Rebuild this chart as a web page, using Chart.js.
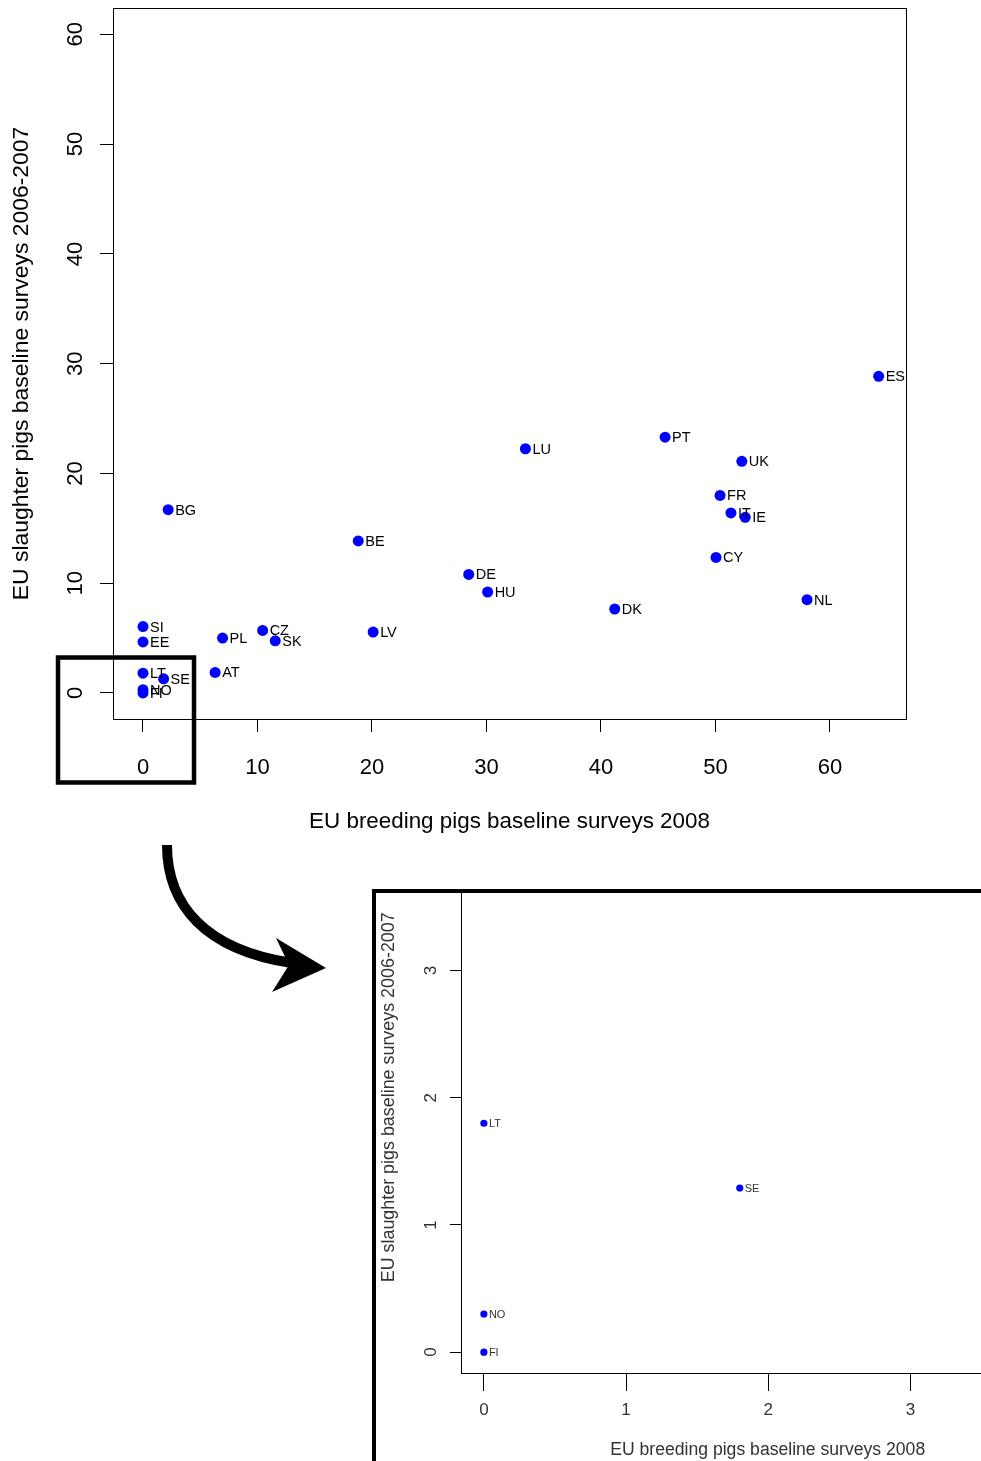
<!DOCTYPE html>
<html>
<head>
<meta charset="utf-8">
<title>Breeding vs slaughter pigs baseline surveys</title>
<script src="https://cdn.jsdelivr.net/npm/chart.js@4.4.1/dist/chart.umd.min.js"></script>
<style>
  html, body { margin: 0; padding: 0; background: #fff; }
  #page { position: relative; width: 981px; height: 1461px; overflow: hidden; }
  #main { position: absolute; left: 0; top: 0; }
  #zoomBox { position: absolute; left: 376px; top: 893px; width: 605px; height: 568px; overflow: hidden; }
  #zoom { position: absolute; left: 0; top: -75px; }
  #marks { position: absolute; left: 0; top: 0; pointer-events: none; }
</style>
</head>
<body>
<div id="page">
  <canvas id="main" width="981" height="850"></canvas>
  <div id="zoomBox"><canvas id="zoom" width="702" height="643"></canvas></div>
  <canvas id="marks" width="981" height="1461"></canvas>
</div>
<script>
const countries = ['ES','LU','PT','UK','FR','IT','IE','CY','NL','DK','BG','BE','DE','HU','LV','SI','EE','PL','CZ','SK','AT','LT','SE','NO','FI'];
const breeding2008 = [64.25, 33.4, 45.6, 52.3, 50.4, 51.35, 52.6, 50.05, 58.0, 41.2, 2.2, 18.8, 28.45, 30.1, 20.1, 0, 0, 6.95, 10.45, 11.55, 6.3, 0, 1.8, 0, 0];
const slaughter0607 = [28.85, 22.25, 23.3, 21.1, 18.0, 16.4, 16.0, 12.35, 8.5, 7.65, 16.7, 13.85, 10.8, 9.2, 5.55, 6.05, 4.65, 5.0, 5.7, 4.75, 1.87, 1.8, 1.29, 0.3, 0];
const mainTicks = [0, 10, 20, 30, 40, 50, 60];
const zoomTicks = [0, 1, 2, 3, 4];
const xTitle = 'EU breeding pigs baseline surveys 2008';
const yTitle = 'EU slaughter pigs baseline surveys 2006-2007';

const FONT = '"Liberation Sans", Arial, Helvetica, sans-serif';
const points = countries.map((c, i) => ({ x: breeding2008[i], y: slaughter0607[i] }));

// base-graphics look: full box, country labels right of the dots, y tick labels along the axis
function rPlot(o) {
  return {
    id: 'rPlot',
    afterDatasetsDraw(chart) {
      const { ctx, chartArea: a } = chart;
      ctx.save();
      ctx.beginPath();
      ctx.rect(a.left, a.top, a.right - a.left, a.bottom - a.top);
      ctx.clip();
      ctx.fillStyle = o.textColor;
      ctx.font = o.labelSize + 'px ' + FONT;
      ctx.textAlign = 'left';
      ctx.textBaseline = 'middle';
      chart.getDatasetMeta(0).data.forEach((p, i) => {
        ctx.fillText(countries[i], p.x + o.labelGap, p.y + 1);
      });
      ctx.restore();
    },
    afterDraw(chart) {
      const { ctx, chartArea: a, scales } = chart;
      ctx.save();
      ctx.strokeStyle = '#000';
      ctx.lineWidth = 1;
      const l = Math.round(a.left) + 0.5, t = Math.round(a.top) + 0.5;
      ctx.strokeRect(l, t, Math.round(a.right) - Math.round(a.left), Math.round(a.bottom) - Math.round(a.top));
      ctx.fillStyle = o.textColor;
      ctx.font = o.tickSize + 'px ' + FONT;
      ctx.textAlign = 'center';
      ctx.textBaseline = 'middle';
      scales.y.ticks.forEach(tk => {
        const y = scales.y.getPixelForValue(tk.value);
        ctx.save();
        ctx.translate(o.yLabelX, y);
        ctx.rotate(-Math.PI / 2);
        ctx.fillText(String(tk.value), 0, 0);
        ctx.restore();
      });
      ctx.restore();
    }
  };
}

function makeChart(id, cfg) {
  const setTicks = vals => s => { s.ticks = vals.map(v => ({ value: v })); };
  return new Chart(document.getElementById(id), {
    type: 'scatter',
    data: {
      datasets: [{
        data: points,
        backgroundColor: '#0000ff',
        borderWidth: 0,
        pointRadius: cfg.radius,
        pointHoverRadius: cfg.radius
      }]
    },
    options: {
      responsive: false,
      animation: false,
      events: [],
      layout: { padding: cfg.padding },
      plugins: { legend: { display: false }, tooltip: { enabled: false } },
      scales: {
        x: {
          type: 'linear',
          min: cfg.xRange[0],
          max: cfg.xRange[1],
          afterBuildTicks: setTicks(cfg.ticks),
          afterFit: s => { s.height = cfg.xAxisHeight; },
          grid: { drawOnChartArea: false, tickLength: cfg.xTickLength, tickColor: '#000', tickWidth: 1 },
          border: { display: true, color: '#000', width: 1 },
          ticks: {
            color: cfg.textColor,
            font: { family: FONT, size: cfg.tickSize },
            padding: cfg.xTickPad,
            maxRotation: 0,
            autoSkip: false
          },
          title: {
            display: true,
            text: xTitle,
            color: cfg.textColor,
            font: { family: FONT, size: cfg.xTitleSize },
            padding: { top: 0, bottom: cfg.xTitlePad }
          }
        },
        y: {
          type: 'linear',
          min: cfg.yRange[0],
          max: cfg.yRange[1],
          afterBuildTicks: setTicks(cfg.ticks),
          afterFit: s => { s.width = cfg.yAxisWidth; },
          grid: { drawOnChartArea: false, tickLength: cfg.yTickLength, tickColor: '#000', tickWidth: 1 },
          border: { display: true, color: '#000', width: 1 },
          ticks: { display: false },
          title: {
            display: true,
            text: yTitle,
            color: cfg.textColor,
            font: { family: FONT, size: cfg.yTitleSize },
            padding: { top: cfg.yTitlePad, bottom: 0 }
          }
        }
      }
    },
    plugins: [rPlot(cfg)]
  });
}

makeChart('main', {
  radius: 5.5,
  padding: { top: 8, right: 75, left: 0, bottom: 0 },
  xRange: [-2.62, 66.64],
  yRange: [-2.37, 62.40],
  ticks: mainTicks,
  xAxisHeight: 131,
  yAxisWidth: 113,
  xTickLength: 13,
  yTickLength: 13,
  tickSize: 22,
  xTickPad: 23,
  xTitleSize: 22.4,
  xTitlePad: 14.5,
  yTitleSize: 22.9,
  yTitlePad: 8.3,
  textColor: '#000',
  labelSize: 14.5,
  labelGap: 7,
  yLabelX: 76
});

makeChart('zoom', {
  radius: 3.6,
  padding: { top: 0, right: 0, left: 0, bottom: 0 },
  xRange: [-0.161, 4.154],
  yRange: [-0.164, 4.172],
  ticks: zoomTicks,
  xAxisHeight: 88,
  yAxisWidth: 85,
  xTickLength: 18,
  yTickLength: 11,
  tickSize: 17,
  xTickPad: 8.8,
  xTitleSize: 17.6,
  xTitlePad: 0,
  yTitleSize: 17.9,
  yTitlePad: 2.3,
  textColor: '#333',
  labelSize: 11,
  labelGap: 5,
  yLabelX: 55
});

// zoom frame, curved arrow and the frame round the enlarged panel
const m = document.getElementById('marks').getContext('2d');
m.strokeStyle = '#000';
m.fillStyle = '#000';
m.lineWidth = 4.5;
m.strokeRect(58, 657.5, 136, 125);
m.lineWidth = 10;
m.beginPath();
m.moveTo(167, 845);
m.bezierCurveTo(167, 905, 205, 950, 292, 963);
m.stroke();
m.beginPath();
m.moveTo(276, 938);
m.lineTo(326, 968);
m.lineTo(272, 992);
m.lineTo(289, 965);
m.closePath();
m.fill();
m.lineWidth = 4;
m.beginPath();
m.moveTo(374, 1461);
m.lineTo(374, 891);
m.lineTo(981, 891);
m.stroke();
</script>
</body>
</html>
